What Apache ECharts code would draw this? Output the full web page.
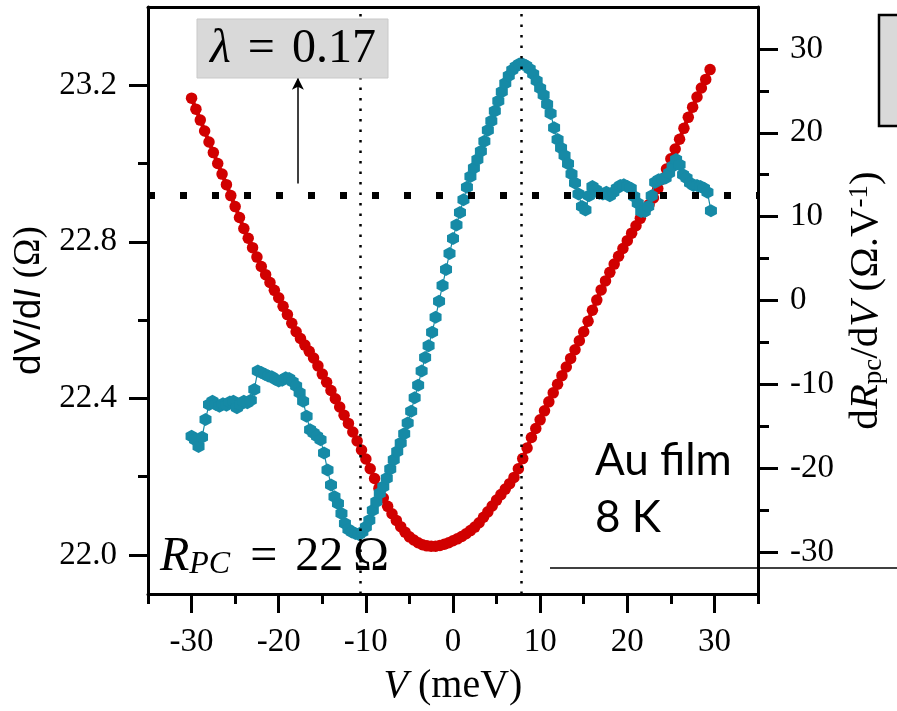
<!DOCTYPE html>
<html>
<head>
<meta charset="utf-8">
<script src="https://cdn.jsdelivr.net/npm/echarts@6/dist/echarts.min.js"></script>
<style>
  html, body { margin: 0; padding: 0; background: #fff; }
  #chart { width: 897px; height: 711px; }
</style>
</head>
<body>
<div id="chart"></div>
<script>
// Bias V (meV) and dV/dI (Ohm) of the point contact
const redV = [
  -30, -29.5, -29, -28.5, -28, -27.5, -27, -26.5, -26, -25.5,
  -25, -24.5, -24, -23.5, -23, -22.5, -22, -21.5, -21, -20.5,
  -20, -19.5, -19, -18.5, -18, -17.5, -17, -16.5, -16, -15.5,
  -15, -14.5, -14, -13.5, -13, -12.5, -12, -11.5, -11, -10.5,
  -10, -9.5, -9, -8.5, -8, -7.5, -7, -6.5, -6, -5.5,
  -5, -4.5, -4, -3.5, -3, -2.5, -2, -1.5, -1, -0.5,
  0, 0.5, 1, 1.5, 2, 2.5, 3, 3.5, 4, 4.5,
  5, 5.5, 6, 6.5, 7, 7.5, 8, 8.5, 9, 9.5,
  10, 10.5, 11, 11.5, 12, 12.5, 13, 13.5, 14, 14.5,
  15, 15.5, 16, 16.5, 17, 17.5, 18, 18.5, 19, 19.5,
  20, 20.5, 21, 21.5, 22, 22.5, 23, 23.5, 24, 24.5,
  25, 25.5, 26, 26.5, 27, 27.5, 28, 28.5, 29, 29.5
];
const redR = [
  23.167, 23.139, 23.111, 23.083, 23.055, 23.028, 23.000, 22.973, 22.946, 22.918,
  22.890, 22.862, 22.834, 22.809, 22.785, 22.761, 22.737, 22.716, 22.696, 22.676,
  22.657, 22.635, 22.614, 22.592, 22.570, 22.553, 22.536, 22.520, 22.503, 22.483,
  22.462, 22.441, 22.420, 22.399, 22.378, 22.357, 22.336, 22.314, 22.291, 22.268,
  22.245, 22.220, 22.195, 22.170, 22.145, 22.124, 22.105, 22.088, 22.072, 22.058,
  22.046, 22.038, 22.031, 22.026, 22.023, 22.022, 22.022, 22.024, 22.027, 22.031,
  22.036, 22.041, 22.047, 22.054, 22.062, 22.071, 22.082, 22.096, 22.110, 22.125,
  22.140, 22.154, 22.168, 22.182, 22.198, 22.220, 22.246, 22.273, 22.300, 22.323,
  22.345, 22.368, 22.391, 22.414, 22.436, 22.458, 22.480, 22.502, 22.524, 22.547,
  22.570, 22.597, 22.625, 22.651, 22.677, 22.700, 22.722, 22.743, 22.763, 22.783,
  22.803, 22.822, 22.841, 22.860, 22.878, 22.895, 22.912, 22.936, 22.960, 22.986,
  23.012, 23.037, 23.062, 23.090, 23.118, 23.144, 23.170, 23.193, 23.215, 23.240
];

// Bias V (meV) and dR_pc/dV (Ohm per V)
const blueV = [
  -30.0, -29.6, -29.2, -28.8, -28.4, -28.0, -27.6, -27.2, -26.8, -26.4,
  -26.0, -25.6, -25.2, -24.8, -24.4, -24.0, -23.6, -23.2, -22.8, -22.4,
  -22.0, -21.6, -21.2, -20.8, -20.4, -20.0, -19.6, -19.2, -18.8, -18.4,
  -18.0, -17.6, -17.2, -16.8, -16.4, -16.0, -15.6, -15.2, -14.8, -14.4,
  -14.0, -13.6, -13.2, -12.8, -12.4, -12.0, -11.6, -11.2, -10.8, -10.4,
  -10.0, -9.6, -9.2, -8.8, -8.4, -8.0, -7.6, -7.2, -6.8, -6.4,
  -6.0, -5.6, -5.2, -4.8, -4.4, -4.0, -3.6, -3.2, -2.8, -2.4,
  -2.0, -1.6, -1.2, -0.8, -0.4, 0.0, 0.4, 0.8, 1.2, 1.6,
  2.0, 2.4, 2.8, 3.2, 3.6, 4.0, 4.4, 4.8, 5.2, 5.6,
  6.0, 6.4, 6.8, 7.2, 7.6, 8.0, 8.4, 8.8, 9.2, 9.6,
  10.0, 10.4, 10.8, 11.2, 11.6, 12.0, 12.4, 12.8, 13.2, 13.6,
  14.0, 14.4, 14.8, 15.2, 15.6, 16.0, 16.4, 16.8, 17.2, 17.6,
  18.0, 18.4, 18.8, 19.2, 19.6, 20.0, 20.4, 20.8, 21.2, 21.6,
  22.0, 22.4, 22.8, 23.2, 23.6, 24.0, 24.4, 24.8, 25.2, 25.6,
  26.0, 26.4, 26.8, 27.2, 27.6, 28.0, 28.4, 28.8, 29.2, 29.6
];
const blueD = [
  -16.2, -16.6, -17.4, -16.3, -14.2, -12.4, -12.0, -12.4, -12.6, -12.3,
  -12.5, -12.1, -12.0, -12.8, -12.4, -12.0, -12.2, -11.9, -10.6, -8.4,
  -8.6, -8.8, -9.0, -9.1, -9.4, -9.6, -9.5, -9.2, -9.3, -9.7,
  -10.2, -11.0, -12.0, -13.8, -15.4, -15.8, -16.2, -16.6, -18.2, -20.2,
  -22.0, -23.4, -24.2, -25.4, -26.6, -27.3, -27.6, -27.8, -27.9, -27.6,
  -27.0, -26.2, -25.0, -24.0, -23.0, -22.2, -21.2, -20.1, -19.0, -18.0,
  -17.0, -15.9, -14.6, -13.2, -11.6, -10.1, -8.4, -6.8, -5.4, -3.8,
  -2.0, -0.1, 1.8, 3.7, 5.6, 7.4, 9.0, 10.5, 12.0, 13.5,
  14.8, 15.8, 16.8, 17.8, 19.0, 20.3, 21.4, 22.6, 23.8, 24.9,
  25.9, 26.8, 27.5, 27.9, 28.2, 28.2, 28.0, 27.6, 27.0, 26.2,
  25.3, 24.5, 23.4, 22.3, 20.6, 19.2, 18.2, 17.3, 16.3, 15.1,
  14.0, 12.7, 11.2, 10.8, 12.5, 13.6, 13.2, 12.8, 12.7, 12.9,
  12.5, 12.9, 13.4, 13.7, 13.8, 13.6, 13.4, 12.4, 11.6, 10.6,
  10.6, 11.2, 12.5, 14.1, 14.4, 14.5, 14.6, 15.2, 16.0, 16.8,
  16.2, 15.0, 14.6, 14.0, 13.7, 13.7, 13.6, 13.4, 12.9, 10.7
];

// Tick positions
const xMajor = [-30, -20, -10, 0, 10, 20, 30];
const xMinor = [-35, -25, -15, -5, 5, 15, 25, 35];
const leftMajor = [22.0, 22.4, 22.8, 23.2];
const leftMinor = [22.2, 22.6, 23.0];
const rightMajor = [-30, -20, -10, 0, 10, 20, 30];
const rightMinor = [-25, -15, -5, 5, 15, 25];

// Reference markers
const peakLines = [-10.7, 7.8];        // V of the dR/dV extrema
const lambdaLevel = 22.924;            // dV/dI level of the dotted guide
const arrowV = -17.8;
const arrowFrom = 22.949;
const arrowTo = 23.219;

const RED = '#d10000';
const BLUE = '#168aa6';
const BLACK = '#000';
const SERIF = '"Liberation Serif", "Times New Roman", serif';
const SANS = '"Liberation Sans", Arial, sans-serif';

const hexagon = 'path://M0,-10L8.66,-5L8.66,5L0,10L-8.66,5L-8.66,-5Z';

function lineStyle() { return { color: BLACK, width: 3 }; }

function tickLabel(values, margin, formatter) {
  const o = { customValues: values, margin: margin, color: BLACK, fontFamily: SERIF, fontSize: 33 };
  if (formatter) o.formatter = formatter;
  return o;
}

const chart = echarts.init(document.getElementById('chart'), null, { renderer: 'canvas' });

const option = {
  animation: false,
  backgroundColor: '#fff',
  grid: { left: 148, right: 139, top: 7, bottom: 117, containLabel: false, outerBoundsMode: 'none' },
  xAxis: [
    {
      type: 'value', min: -35, max: 35, position: 'bottom',
      axisLine: { show: true, onZero: false, lineStyle: lineStyle() },
      axisTick: { show: true, customValues: xMajor, length: 19, lineStyle: lineStyle() },
      axisLabel: tickLabel(xMajor, 32),
      splitLine: { show: false },
      name: '{i|V} (meV)', nameLocation: 'middle', nameGap: 72, nameMoveOverlap: false,
      nameTextStyle: {
        color: BLACK, fontFamily: SERIF, fontSize: 40,
        rich: { i: { fontStyle: 'italic', fontFamily: SERIF, fontSize: 40, color: BLACK } }
      }
    },
    {
      type: 'value', min: -35, max: 35, position: 'bottom',
      axisLine: { show: false, onZero: false },
      axisTick: { show: true, customValues: xMinor, length: 10, lineStyle: lineStyle() },
      axisLabel: { show: false }, splitLine: { show: false }
    },
    {
      type: 'value', min: -35, max: 35, position: 'top',
      axisLine: { show: true, onZero: false, lineStyle: lineStyle() },
      axisTick: { show: false }, axisLabel: { show: false }, splitLine: { show: false }
    }
  ],
  yAxis: [
    {
      type: 'value', min: 21.9, max: 23.4, position: 'left',
      axisLine: { show: true, onZero: false, lineStyle: lineStyle() },
      axisTick: { show: true, customValues: leftMajor, length: 19, lineStyle: lineStyle() },
      axisLabel: tickLabel(leftMajor, 31, v => v.toFixed(1)),
      splitLine: { show: false },
      name: '{s|dV/d}{si|I} {r|(Ω)}', nameLocation: 'middle', nameRotate: 90, nameGap: 100,
      nameMoveOverlap: false,
      nameTextStyle: {
        color: BLACK, fontFamily: SANS, fontSize: 37,
        rich: {
          s: { fontFamily: SANS, fontSize: 37, color: BLACK },
          si: { fontFamily: SANS, fontSize: 37, fontStyle: 'italic', color: BLACK },
          r: { fontFamily: SERIF, fontSize: 37, color: BLACK }
        }
      }
    },
    {
      type: 'value', min: 21.9, max: 23.4, position: 'left',
      axisLine: { show: false, onZero: false },
      axisTick: { show: true, customValues: leftMinor, length: 10, lineStyle: lineStyle() },
      axisLabel: { show: false }, splitLine: { show: false }
    },
    {
      type: 'value', min: -35, max: 35, position: 'right',
      axisLine: { show: true, onZero: false, lineStyle: lineStyle() },
      axisTick: { show: true, customValues: rightMajor, length: 20, lineStyle: lineStyle() },
      axisLabel: tickLabel(rightMajor, 32),
      splitLine: { show: false },
      name: '{n|d}{i|R}{sub|pc}{n|/d}{i|V}{n| (Ω.V}{sup|-1}{n|)}',
      nameLocation: 'middle', nameRotate: 90, nameGap: 88, nameMoveOverlap: false,
      nameTextStyle: {
        color: BLACK, fontFamily: SERIF, fontSize: 41,
        rich: {
          n: { fontFamily: SERIF, fontSize: 41, color: BLACK },
          i: { fontFamily: SERIF, fontSize: 41, fontStyle: 'italic', color: BLACK },
          sub: { fontFamily: SERIF, fontSize: 27, lineHeight: 14, verticalAlign: 'bottom', color: BLACK },
          sup: { fontFamily: SERIF, fontSize: 27, lineHeight: 16, verticalAlign: 'top', color: BLACK }
        }
      }
    },
    {
      type: 'value', min: -35, max: 35, position: 'right',
      axisLine: { show: false, onZero: false },
      axisTick: { show: true, customValues: rightMinor, length: 11, lineStyle: lineStyle() },
      axisLabel: { show: false }, splitLine: { show: false }
    }
  ],
  series: [
    {
      name: 'dV/dI', type: 'line', xAxisIndex: 0, yAxisIndex: 0,
      data: redV.map((v, i) => [v, redR[i]]),
      symbol: 'circle', symbolSize: 11.5, showSymbol: true,
      itemStyle: { color: RED }, lineStyle: { color: RED, width: 4 },
      z: 2, silent: true
    },
    {
      name: 'dRpc/dV', type: 'line', xAxisIndex: 0, yAxisIndex: 2,
      data: blueV.map((v, i) => [v, blueD[i]]),
      symbol: hexagon, symbolSize: [12, 13], showSymbol: true,
      itemStyle: { color: BLUE }, lineStyle: { color: BLUE, width: 1.2 },
      z: 3, silent: true
    },
    {
      name: 'guides', type: 'line', xAxisIndex: 0, yAxisIndex: 0, data: [], z: 5, silent: true,
      markLine: {
        silent: true, animation: false, symbol: 'none', label: { show: false },
        emphasis: { disabled: true },
        data: [
          { yAxis: lambdaLevel, lineStyle: { type: [7, 25], width: 7, color: BLACK } },
          { xAxis: peakLines[0], lineStyle: { type: [2.5, 8], width: 2.5, color: BLACK } },
          { xAxis: peakLines[1], lineStyle: { type: [2.5, 8], width: 2.5, color: BLACK } }
        ]
      }
    },
    {
      name: 'arrow', type: 'line', xAxisIndex: 0, yAxisIndex: 0, data: [], z: 5, silent: true,
      markLine: {
        silent: true, animation: false, symbol: ['none', 'arrow'], symbolSize: [9, 12],
        label: { show: false }, emphasis: { disabled: true },
        lineStyle: { color: BLACK, width: 1.5, type: 'solid' },
        data: [[{ coord: [arrowV, arrowFrom] }, { coord: [arrowV, arrowTo] }]]
      }
    }
  ],
  graphic: [
    {
      type: 'rect', z: 10, silent: true,
      shape: { x: 197, y: 19, width: 191, height: 59 },
      style: { fill: '#d9d9d9', stroke: '#c9c9c9', lineWidth: 1 }
    },
    {
      type: 'text', z: 11, silent: true, x: 293, y: 49,
      style: {
        text: '{i|λ}{e|=}{n|0.17}', fill: BLACK, font: '48px ' + SERIF,
        textAlign: 'center', textVerticalAlign: 'middle', align: 'center', verticalAlign: 'middle',
        rich: {
          i: { fontStyle: 'italic', fontFamily: SERIF, fontSize: 48, fill: BLACK },
          e: { fontFamily: SERIF, fontSize: 48, fill: BLACK, padding: [0, 17, 0, 17] },
          n: { fontFamily: SERIF, fontSize: 48, fill: BLACK }
        }
      }
    },
    {
      type: 'text', z: 11, silent: true, x: 160, y: 557,
      style: {
        text: '{r|R}{s|PC}{e|=}{n|22}{w|Ω}', fill: BLACK, font: '48px ' + SERIF,
        textAlign: 'left', textVerticalAlign: 'middle', align: 'left', verticalAlign: 'middle',
        rich: {
          r: { fontStyle: 'italic', fontFamily: SERIF, fontSize: 48, fill: BLACK },
          s: { fontStyle: 'italic', fontFamily: SERIF, fontSize: 32, lineHeight: 20, verticalAlign: 'bottom', fill: BLACK },
          e: { fontFamily: SERIF, fontSize: 48, fill: BLACK, padding: [0, 18, 0, 20] },
          n: { fontFamily: SERIF, fontSize: 48, fill: BLACK },
          w: { fontFamily: SERIF, fontSize: 48, fill: BLACK, padding: [0, 0, 0, 10] }
        }
      }
    },
    {
      type: 'text', z: 11, silent: true, x: 595, y: 461,
      style: {
        text: 'Au film', fill: BLACK, font: '44px Lato, "Liberation Sans", sans-serif',
        textAlign: 'left', textVerticalAlign: 'middle', align: 'left', verticalAlign: 'middle'
      }
    },
    {
      type: 'text', z: 11, silent: true, x: 595, y: 518,
      style: {
        text: '8 K', fill: BLACK, font: '44px Lato, "Liberation Sans", sans-serif',
        textAlign: 'left', textVerticalAlign: 'middle', align: 'left', verticalAlign: 'middle'
      }
    },
    {
      type: 'line', z: 11, silent: true,
      shape: { x1: 550, y1: 568, x2: 897, y2: 568 },
      style: { stroke: BLACK, lineWidth: 1.5 }
    },
    {
      type: 'rect', z: 11, silent: true,
      shape: { x: 879, y: 15, width: 40, height: 111 },
      style: { fill: '#d9d9d9', stroke: BLACK, lineWidth: 2.5 }
    }
  ]
};

chart.setOption(option);
</script>
</body>
</html>
